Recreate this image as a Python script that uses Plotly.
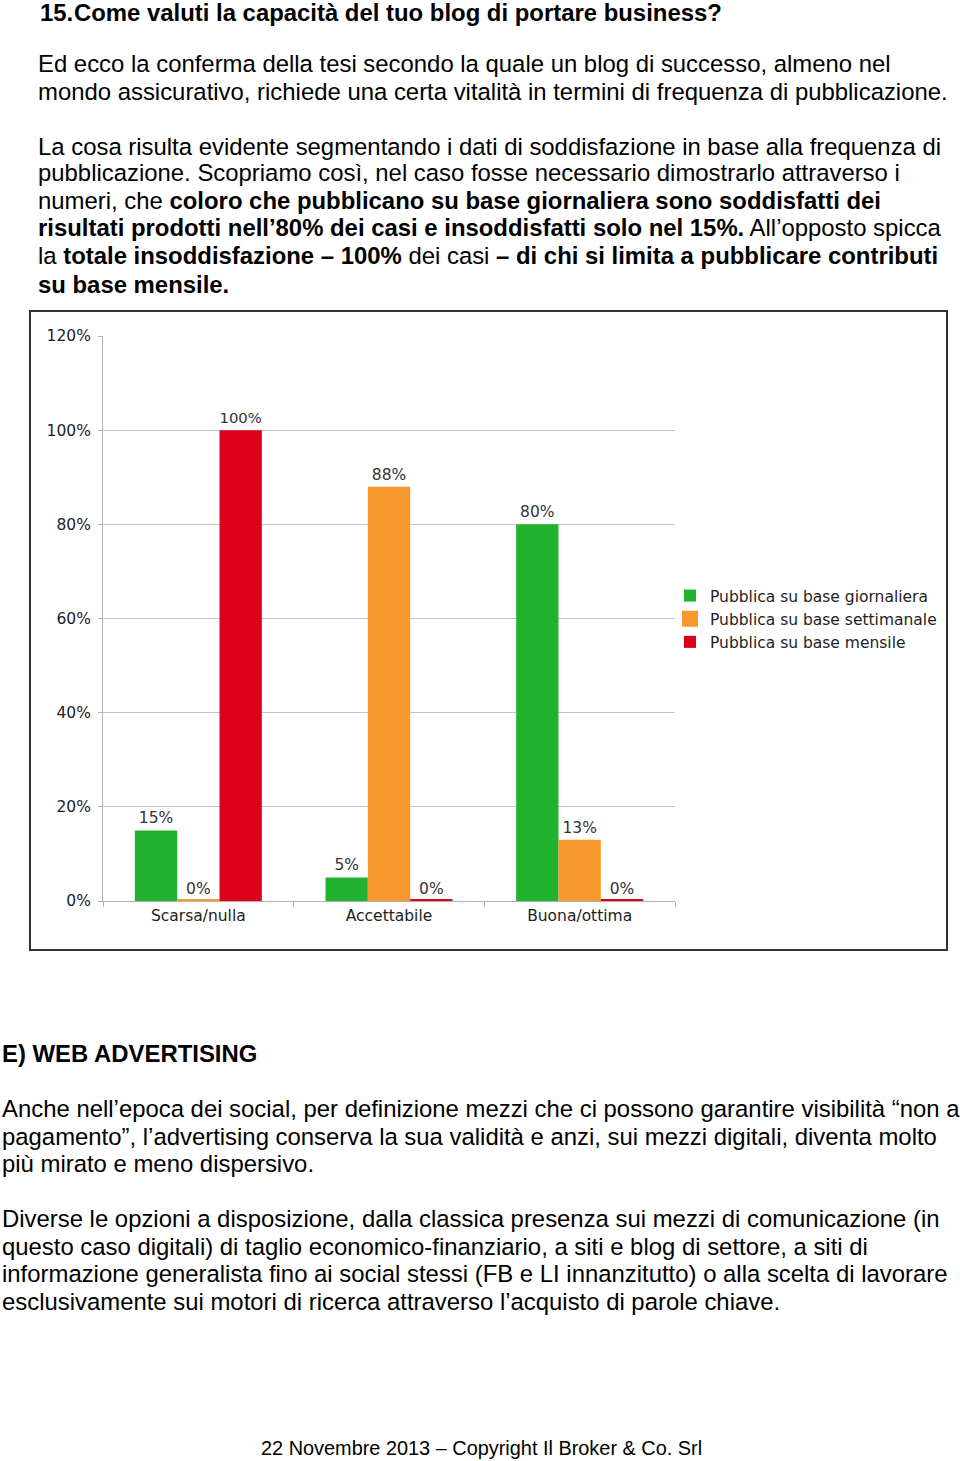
import plotly.graph_objects as go

W, H = 960, 1461

categories = ["Scarsa/nulla", "Accettabile", "Buona/ottima"]
series_names = ["Pubblica su base giornaliera", "Pubblica su base settimanale", "Pubblica su base mensile"]
giornaliera = [15, 5, 80]
settimanale = [0, 88, 13]
mensile = [100, 0, 0]
colors = ["#22b32e", "#f7992d", "#dc0018"]
y_ticks = [0, 20, 40, 60, 80, 100, 120]

title_num = "<b>15.</b>"
title_text = "<b>Come valuti la capacità del tuo blog di portare business?</b>"
top_lines = [
    (64, "Ed ecco la conferma della tesi secondo la quale un blog di successo, almeno nel"),
    (92, "mondo assicurativo, richiede una certa vitalità in termini di frequenza di pubblicazione."),
    (147, "La cosa risulta evidente segmentando i dati di soddisfazione in base alla frequenza di"),
    (174, "pubblicazione. Scopriamo così, nel caso fosse necessario dimostrarlo attraverso i"),
    (202, "numeri, che <b>coloro che pubblicano su base giornaliera sono soddisfatti dei</b>"),
    (229, "<b>risultati prodotti nell’80% dei casi e insoddisfatti solo nel 15%.</b> All’opposto spicca"),
    (257, "la <b>totale insoddisfazione – 100%</b> dei casi <b>– di chi si limita a pubblicare contributi</b>"),
    (285, "<b>su base mensile.</b>"),
]
bottom_lines = [
    (1054, "<b>E) WEB ADVERTISING</b>"),
    (1109, "Anche nell’epoca dei social, per definizione mezzi che ci possono garantire visibilità “non a"),
    (1137, "pagamento”, l’advertising conserva la sua validità e anzi, sui mezzi digitali, diventa molto"),
    (1164, "più mirato e meno dispersivo."),
    (1219, "Diverse le opzioni a disposizione, dalla classica presenza sui mezzi di comunicazione (in"),
    (1247, "questo caso digitali) di taglio economico-finanziario, a siti e blog di settore, a siti di"),
    (1274, "informazione generalista fino ai social stessi (FB e LI innanzitutto) o alla scelta di lavorare"),
    (1302, "esclusivamente sui motori di ricerca attraverso l’acquisto di parole chiave."),
]
footer = "22 Novembre 2013 – Copyright Il Broker & Co. Srl"


def px(x):
    return x / W


def py(y):
    return 1 - y / H


fig = go.Figure()
for i, (name, vals, col) in enumerate(zip(series_names, [giornaliera, settimanale, mensile], colors)):
    fig.add_trace(go.Bar(
        x=categories, y=vals, name=name, legendgroup=f"g{i}",
        marker=dict(color=col, line=dict(color=col, width=[4 if v == 0 else 0 for v in vals])),
        text=[f"{v}%" for v in vals], textposition="outside",
        textfont=dict(family="DejaVu Sans", size=15.5, color="#333333"),
        cliponaxis=False,
    ))

body_font = dict(family="Liberation Sans, Arial", size=23.9, color="#000000")
YS = 1
ann = []
ann.append(dict(x=px(38), y=py(13), text=title_num, xanchor="left", yanchor="middle", yshift=YS,
                xref="paper", yref="paper", showarrow=False, font=body_font))
ann.append(dict(x=px(72), y=py(13), text=title_text, xanchor="left", yanchor="middle", yshift=YS,
                xref="paper", yref="paper", showarrow=False, font=body_font))
for y, t in top_lines:
    ann.append(dict(x=px(36), y=py(y), text=t, xanchor="left", yanchor="middle", yshift=YS,
                    xref="paper", yref="paper", showarrow=False, font=body_font))
for y, t in bottom_lines:
    ann.append(dict(x=px(0), y=py(y), text=t, xanchor="left", yanchor="middle", yshift=YS,
                    xref="paper", yref="paper", showarrow=False, font=body_font))
ann.append(dict(x=px(481.5), y=py(1449), text=footer, xanchor="center", yanchor="middle", yshift=YS,
                xref="paper", yref="paper", showarrow=False,
                font=dict(family="Liberation Sans, Arial", size=19.9, color="#000000")))

fig.update_layout(
    width=W, height=H,
    margin=dict(l=0, r=0, t=0, b=0, autoexpand=False),
    paper_bgcolor="white", plot_bgcolor="white",
    barmode="group", bargap=0.334, bargroupgap=0,
    showlegend=True,
    legend=dict(x=px(670), y=py(579), xanchor="left", yanchor="top", traceorder="grouped",
                font=dict(family="DejaVu Sans", size=15.5, color="#222222"),
                bgcolor="rgba(0,0,0,0)", tracegroupgap=0, itemwidth=30),
    xaxis=dict(domain=[px(103), px(675)], anchor="y",
               showline=True, linecolor="#b0b0b0", linewidth=1,
               ticks="outside", tickson="boundaries", ticklen=5, tickcolor="#b0b0b0",
               tickfont=dict(family="DejaVu Sans", size=15.5, color="#222222"),
               showgrid=False),
    yaxis=dict(domain=[py(901), py(336)], range=[0, 120], tickvals=y_ticks,
               ticktext=[f"{v}%" for v in y_ticks],
               showline=True, linecolor="#b0b0b0", linewidth=1,
               gridcolor="#c4c4c4", gridwidth=1, zeroline=False,
               ticks="outside", ticklen=4, tickcolor="#b0b0b0", ticklabelstandoff=4,
               tickfont=dict(family="DejaVu Sans", size=15.5, color="#222222")),
    annotations=ann,
    shapes=[dict(type="rect", xref="paper", yref="paper", x0=px(30), x1=px(947), y0=py(950), y1=py(311),
                 line=dict(color="#333333", width=2), fillcolor="rgba(0,0,0,0)", layer="below")],
)

post = (
    "var gd=document.getElementById('{plot_id}');"
    "document.documentElement.style.overflow='hidden';"
    "document.body.style.margin='0';document.body.style.overflow='hidden';"
    "document.body.style.height='1461px';"
    "gd.parentElement.style.height='1461px';gd.parentElement.style.overflow='hidden';"
    "gd.parentElement.style.lineHeight='0';"
)
fig.write_html("out.html", config={"displayModeBar": False}, post_script=post)
